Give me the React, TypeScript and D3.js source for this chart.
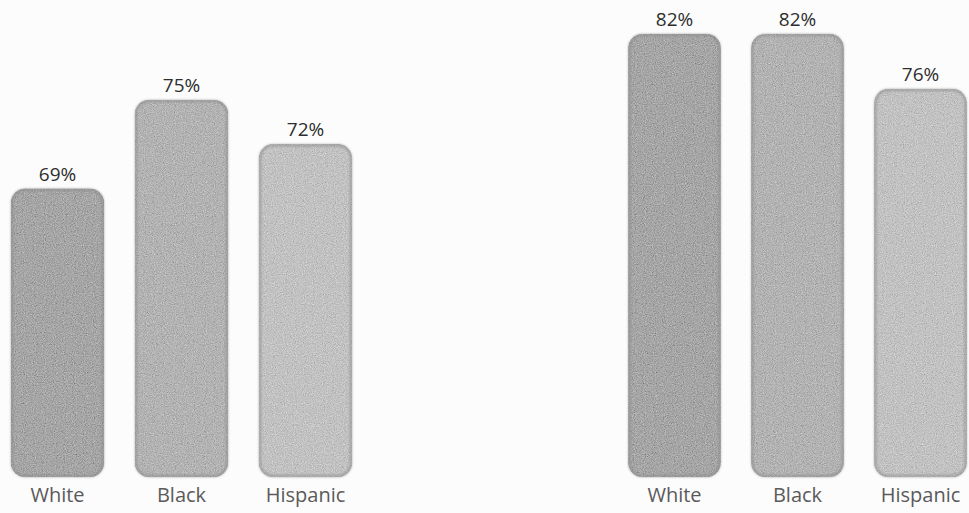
import React from "react";
import * as d3 from "d3";

// Two panels of rates by group
const categories = ["White", "Black", "Hispanic"];
const leftValues = [69, 75, 72];
const rightValues = [82, 82, 76];
const barFills = ["#a6a6a6", "#b3b3b3", "#c2c2c2"];

const W = 969;
const H = 513;
const baseline = 477;

const fmt = (v: number) => `${v}%`;

type PanelProps = {
  values: number[];
  xRange: [number, number];
  yDomain: [number, number];
  yTop: number;
  id: string;
};

function Panel({ values, xRange, yDomain, yTop, id }: PanelProps) {
  const x = d3
    .scaleBand<string>()
    .domain(categories)
    .range(xRange)
    .paddingInner(0.25)
    .paddingOuter(0.125);
  const y = d3.scaleLinear().domain(yDomain).range([baseline, yTop]);
  const bw = x.bandwidth();
  return (
    <g>
      {categories.map((c, i) => {
        const x0 = x(c) ?? 0;
        const top = y(values[i]);
        return (
          <g key={`${id}-${c}`}>
            <rect
              x={x0}
              y={top}
              width={bw}
              height={baseline - top}
              rx={14}
              ry={14}
              fill={barFills[i]}
              filter="url(#grain)"
            />
            <rect
              x={x0 + 1}
              y={top + 1}
              width={bw - 2}
              height={baseline - top - 2}
              rx={13}
              ry={13}
              fill="none"
              stroke="#8a8a8a"
              strokeOpacity={0.6}
              strokeWidth={2.5}
              filter="url(#soft)"
            />
            <text
              x={x0 + bw / 2}
              y={top - 8}
              textAnchor="middle"
              fontFamily="'Open Sans', sans-serif"
              fontSize={19}
              fontWeight={500}
              fill="#2e2e2e"
            >
              {fmt(values[i])}
            </text>
            <text
              x={x0 + bw / 2}
              y={502}
              textAnchor="middle"
              fontFamily="'Open Sans', sans-serif"
              fontSize={20}
              fill="#5a5a5a"
            >
              {c}
            </text>
          </g>
        );
      })}
    </g>
  );
}

export default function App() {
  return (
    <svg
      width={W}
      height={H}
      style={{ position: "absolute", left: 0, top: 0, display: "block" }}
    >
      <defs>
        <filter id="grain" x="0" y="0" width="100%" height="100%">
          <feTurbulence
            type="fractalNoise"
            baseFrequency="0.9"
            numOctaves={2}
            seed={7}
            result="noise"
          />
          <feColorMatrix
            in="noise"
            type="matrix"
            values="0.33 0.33 0.33 0 0  0.33 0.33 0.33 0 0  0.33 0.33 0.33 0 0  0 0 0 0 1"
            result="gray"
          />
          <feComposite
            in="SourceGraphic"
            in2="gray"
            operator="arithmetic"
            k1={0}
            k2={1}
            k3={0.8}
            k4={-0.4}
            result="mix"
          />
          <feComposite in="mix" in2="SourceGraphic" operator="in" />
        </filter>
        <filter id="soft">
          <feGaussianBlur stdDeviation="0.8" />
        </filter>
      </defs>
      <rect width={W} height={H} fill="#fcfcfc" />
      <Panel
        id="left"
        values={leftValues}
        xRange={[-4.5, 367.5]}
        yDomain={[49.5, 75]}
        yTop={100}
      />
      <Panel
        id="right"
        values={rightValues}
        xRange={[613, 982]}
        yDomain={[33.7, 82]}
        yTop={34}
      />
    </svg>
  );
}
